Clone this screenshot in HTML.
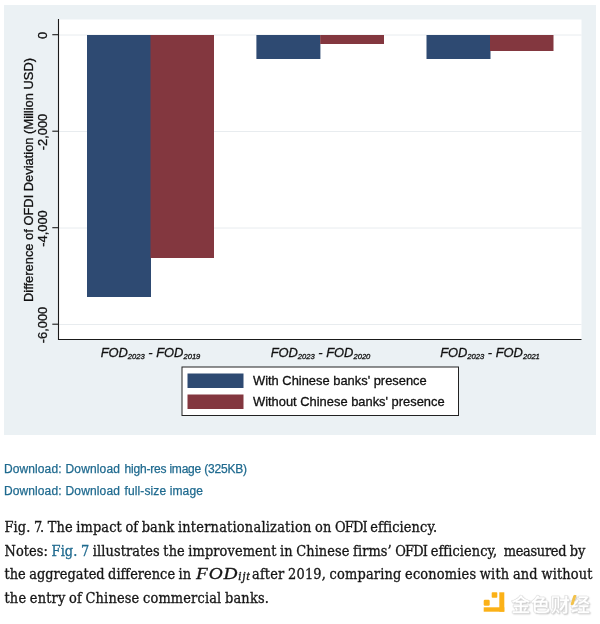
<!DOCTYPE html>
<html><head><meta charset="utf-8">
<style>
html,body{margin:0;padding:0;background:#fff;}
body{width:600px;height:624px;position:relative;overflow:hidden;font-family:"Liberation Sans",sans-serif;}
#chart{position:absolute;left:0;top:0;filter:blur(0.35px);}
.dl{position:absolute;left:4px;font:12px "Liberation Sans",sans-serif;color:#1f6a8f;white-space:nowrap;line-height:14px;-webkit-text-stroke:0.25px currentColor;}
.cap{position:absolute;left:4.5px;font:14.4px "DejaVu Serif Condensed","DejaVu Serif","Liberation Serif",serif;color:#161616;white-space:nowrap;line-height:20px;word-spacing:-0.7px;letter-spacing:0.1px;-webkit-text-stroke:0.3px currentColor;}
.cap a{color:#1f6a8f;text-decoration:none;}
.wm{position:absolute;left:511px;top:594px;letter-spacing:0.2px;font:bold 19.6px "Liberation Sans","Noto Sans CJK SC",sans-serif;color:#fff;-webkit-text-stroke:0.4px #dcdcdc;text-shadow:1px 1px 1.5px #c4c4c4,-0.5px -0.5px 1px #e4e4e4;white-space:nowrap;line-height:22px;}
</style></head><body>
<svg id="chart" width="600" height="440" viewBox="0 0 600 440" font-family="'Liberation Sans',sans-serif">
  <rect x="4" y="5" width="592" height="430" fill="#ebf1f4"/>
  <rect x="58" y="19.5" width="523.5" height="320" fill="#fff"/>
  <g stroke="#e8ecef" stroke-width="1">
    <line x1="58" x2="581.5" y1="35" y2="35"/>
    <line x1="58" x2="581.5" y1="131.5" y2="131.5"/>
    <line x1="58" x2="581.5" y1="228" y2="228"/>
    <line x1="58" x2="581.5" y1="324.5" y2="324.5"/>
  </g>
  <!-- bars -->
  <rect x="87" y="35" width="64" height="262" fill="#2e4a72"/>
  <rect x="150.5" y="35" width="63.5" height="223" fill="#83373f"/>
  <rect x="256.4" y="35" width="64" height="24" fill="#2e4a72"/>
  <rect x="320.2" y="35" width="63.8" height="9" fill="#83373f"/>
  <rect x="426.5" y="35" width="64" height="24" fill="#2e4a72"/>
  <rect x="490" y="35" width="63.5" height="16" fill="#83373f"/>
  <!-- axes -->
  <g stroke="#1a1a1a" stroke-width="1.1">
    <line x1="58.5" x2="58.5" y1="19" y2="340"/>
    <line x1="58" x2="581.5" y1="339.5" y2="339.5"/>
    <line x1="52.3" x2="58" y1="34.7" y2="34.7"/>
    <line x1="52.3" x2="58" y1="131.2" y2="131.2"/>
    <line x1="52.3" x2="58" y1="227.7" y2="227.7"/>
    <line x1="52.3" x2="58" y1="324.2" y2="324.2"/>
  </g>
  <g font-size="12.9" fill="#111" stroke="#111" stroke-width="0.3" text-anchor="middle">
    <text transform="translate(47.2,35.5) rotate(-90)">0</text>
    <text transform="translate(47.2,132.0) rotate(-90)">-2,000</text>
    <text transform="translate(47.2,228.5) rotate(-90)">-4,000</text>
    <text transform="translate(47.2,325.0) rotate(-90)">-6,000</text>
    <text transform="translate(32.8,180) rotate(-90)">Difference of OFDI Deviation (Million USD)</text>
  </g>
  <g font-size="12.9" fill="#111" stroke="#111" stroke-width="0.3" text-anchor="middle" font-style="italic">
    <text x="150.5" y="357.4">FOD<tspan font-size="7.6" dy="2">2023</tspan><tspan dy="-2"> - FOD</tspan><tspan font-size="7.6" dy="2">2019</tspan></text>
    <text x="320.5" y="357.4">FOD<tspan font-size="7.6" dy="2">2023</tspan><tspan dy="-2"> - FOD</tspan><tspan font-size="7.6" dy="2">2020</tspan></text>
    <text x="490" y="357.4">FOD<tspan font-size="7.6" dy="2">2023</tspan><tspan dy="-2"> - FOD</tspan><tspan font-size="7.6" dy="2">2021</tspan></text>
  </g>
  <!-- legend -->
  <rect x="182" y="367" width="276.5" height="48.5" fill="#fff" stroke="#222" stroke-width="1"/>
  <rect x="187.5" y="373.5" width="56" height="14.5" fill="#2e4a72"/>
  <rect x="187.5" y="394.5" width="56" height="14.5" fill="#83373f"/>
  <g font-size="12.9" fill="#111" stroke="#111" stroke-width="0.3">
    <text x="253" y="385">With Chinese banks' presence</text>
    <text x="253" y="406">Without Chinese banks' presence</text>
  </g>
</svg>
<div class="dl" style="top:462px;letter-spacing:0.1px">Download:</div>
<div class="dl" style="top:462px;left:65.5px;letter-spacing:0.15px">Download</div>
<div class="dl" style="top:462px;left:124.5px;letter-spacing:-0.2px">high-res image (325KB)</div>
<div class="dl" style="top:484px;letter-spacing:0.1px">Download:</div>
<div class="dl" style="top:484px;left:65.5px;letter-spacing:0.15px">Download</div>
<div class="dl" style="top:484px;left:124.5px;letter-spacing:0.12px">full-size image</div>
<div class="cap" style="top:517px;letter-spacing:0.115px">Fig. <span style="letter-spacing:-2.2px">7</span>. The impact of bank <span style="letter-spacing:0.225px">internationalization</span> on <span style="letter-spacing:-0.8px">OFDI</span> efficiency.</div>
<div class="cap" style="top:540.5px;letter-spacing:0.095px">Notes: <a>Fig. 7</a> illustrates the improvement in Chinese firms’ <span style="letter-spacing:-0.8px">OFDI</span> efficiency, <span style="margin-left:3px;letter-spacing:-0.3px">measured</span> by</div>
<div class="cap" style="top:564.4px;letter-spacing:0.02px">the aggregated difference in</div>
<div class="cap" style="top:564px;left:195.8px;font:italic 16.6px 'Liberation Serif',serif;line-height:20px;letter-spacing:0.8px;transform:scaleX(1.16);transform-origin:0 0">FOD</div>
<div class="cap" style="top:568.5px;left:238px;font:italic 12.5px 'Liberation Serif',serif;line-height:14px;letter-spacing:0.7px">ijt</div>
<div class="cap" style="top:564.4px;left:252px;letter-spacing:0.18px">after 2019, comparing economies with and without</div>
<div class="cap" style="top:587.9px;letter-spacing:0.175px">the entry of Chinese commercial banks.</div>
<svg style="position:absolute;left:483px;top:592px" width="22" height="21" viewBox="0 0 22 21">
  <g fill="#fbb117"><rect x="16.3" y="0.3" width="5" height="19.4"/><rect x="0.7" y="15.3" width="20.6" height="4.4"/><rect x="0.7" y="7.7" width="6" height="6" rx="1.2"/><rect x="8.7" y="0.3" width="5.6" height="5.4" rx="0.8"/></g>
</svg>
<div class="wm">金色财经</div>
<div style="position:absolute;left:571.5px;top:594.5px;width:2.6px;height:10px;background:#f3c24a;transform:skewX(-18deg);border-radius:1px"></div>
</body></html>
